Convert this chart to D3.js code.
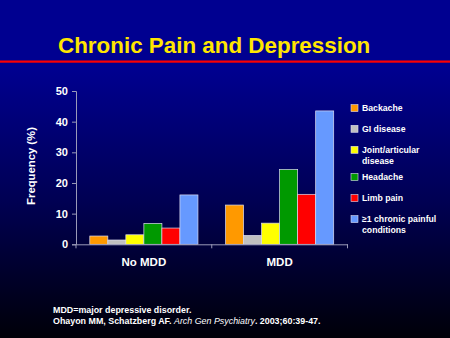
<!DOCTYPE html>
<html><head><meta charset="utf-8">
<script src="https://cdn.jsdelivr.net/npm/d3@7"></script>
<style>html,body{margin:0;padding:0;background:#000;}svg{display:block;font-family:"Liberation Sans",Arial,sans-serif;}</style>
</head><body>
<script>
const groups = ["No MDD", "MDD"];
const seriesNames = ["Backache", "GI disease", "Joint/articular disease", "Headache", "Limb pain", "≥1 chronic painful conditions"];
const legendLines = [["Backache"], ["GI disease"], ["Joint/articular", "disease"], ["Headache"], ["Limb pain"], ["≥1 chronic painful", "conditions"]];
const colors = ["#ff9900", "#c0c0c0", "#ffff00", "#009900", "#ff0000", "#6699ff"];
const noMDD = [2.7, 1.4, 3.1, 6.8, 5.3, 16.1];
const mdd = [12.8, 2.9, 6.9, 24.4, 16.3, 43.5];
const yTicks = [0, 10, 20, 30, 40, 50];

const W = 450, H = 338;
const svg = d3.select("body").append("svg").attr("width", W).attr("height", H);
const defs = svg.append("defs");
const grad = defs.append("linearGradient").attr("id", "bg").attr("x1", 0).attr("y1", 0).attr("x2", 0).attr("y2", 1);
grad.append("stop").attr("offset", 0).attr("stop-color", "#000090");
grad.append("stop").attr("offset", 0.2).attr("stop-color", "#000090");
grad.append("stop").attr("offset", 0.6).attr("stop-color", "#000052");
grad.append("stop").attr("offset", 1).attr("stop-color", "#000008");
svg.append("rect").attr("width", W).attr("height", H).attr("fill", "url(#bg)");

svg.append("text").attr("x", 58).attr("y", 53).attr("fill", "#ffe600")
  .attr("font-size", 22.4).attr("font-weight", "bold").text("Chronic Pain and Depression");
svg.append("rect").attr("x", 0).attr("y", 60.5).attr("width", W).attr("height", 2.2).attr("fill", "#ff0000");

const data = groups.map((g, i) => ({group: g, values: i === 0 ? noMDD : mdd}));

const y = d3.scaleLinear().domain([0, 50]).range([244.3, 91]);
const x0 = d3.scaleBand().domain(groups).range([76, 347.5]).paddingInner(0).paddingOuter(0);
const x1 = d3.scaleBand().domain(d3.range(6)).range([13.8, x0.bandwidth() - 13.8]).padding(0);

// bars
const g = svg.append("g");
data.forEach(d => {
  g.selectAll(null).data(d.values).enter().append("rect")
    .attr("x", (v, i) => x0(d.group) + x1(i))
    .attr("y", v => y(v))
    .attr("width", x1.bandwidth())
    .attr("height", v => y(0) - y(v))
    .attr("fill", (v, i) => colors[i])
    .attr("stroke", "#dcdcf0").attr("stroke-width", 0.7);
});

// y axis
const axisColor = "#9a9ab8";
const yAxis = svg.append("g").attr("transform", "translate(76,0)")
  .call(d3.axisLeft(y).tickValues(yTicks).tickSize(4).tickPadding(4).tickFormat(d3.format("d")));
yAxis.select(".domain").attr("stroke", axisColor);
yAxis.selectAll(".tick line").attr("stroke", axisColor);
yAxis.selectAll("text").attr("fill", "#ffffff").attr("font-size", 11).attr("font-weight", "bold")
  .attr("font-family", "Liberation Sans, Arial, sans-serif");

// x axis
const xAxis = svg.append("g").attr("transform", `translate(0,${y(0)})`)
  .call(d3.axisBottom(x0).tickValues([]).tickSizeOuter(0));
xAxis.select(".domain").attr("stroke", axisColor);
[76, 76 + x0.bandwidth(), 347.5].forEach(px => {
  xAxis.append("line").attr("x1", px).attr("x2", px).attr("y1", 0).attr("y2", 4).attr("stroke", axisColor);
});
groups.forEach(gname => {
  svg.append("text").attr("x", x0(gname) + x0.bandwidth() / 2).attr("y", 265.5)
    .attr("text-anchor", "middle").attr("fill", "#fff").attr("font-size", 11.5).attr("font-weight", "bold").text(gname);
});

// y label
svg.append("text").attr("transform", "translate(35,166) rotate(-90)")
  .attr("text-anchor", "middle").attr("fill", "#fff").attr("font-size", 11.3).attr("font-weight", "bold")
  .text("Frequency (%)");

// legend
const legY = [108.3, 129, 150, 177.3, 198.3, 219.3];
legendLines.forEach((lines, i) => {
  svg.append("rect").attr("x", 351).attr("y", legY[i] - 3.7).attr("width", 7).attr("height", 7)
    .attr("fill", colors[i]).attr("stroke", "#dcdcf0").attr("stroke-width", 0.6);
  lines.forEach((ln, j) => {
    svg.append("text").attr("x", 362).attr("y", legY[i] + 3 + j * 10.5).attr("fill", "#fff")
      .attr("font-size", 8.7).attr("font-weight", "bold").text(ln);
  });
});

// footnotes
svg.append("text").attr("x", 53).attr("y", 312.5).attr("fill", "#fff").attr("font-size", 8.9).attr("font-weight", "bold")
  .text("MDD=major depressive disorder.");
const fn = svg.append("text").attr("x", 53).attr("y", 323.5).attr("fill", "#fff").attr("font-size", 8.9).attr("font-weight", "bold");
fn.append("tspan").text("Ohayon MM, Schatzberg AF. ");
fn.append("tspan").attr("font-style", "italic").attr("font-weight", "normal").text("Arch Gen Psychiatry");
fn.append("tspan").text(". 2003;60:39-47.");
</script>
</body></html>
